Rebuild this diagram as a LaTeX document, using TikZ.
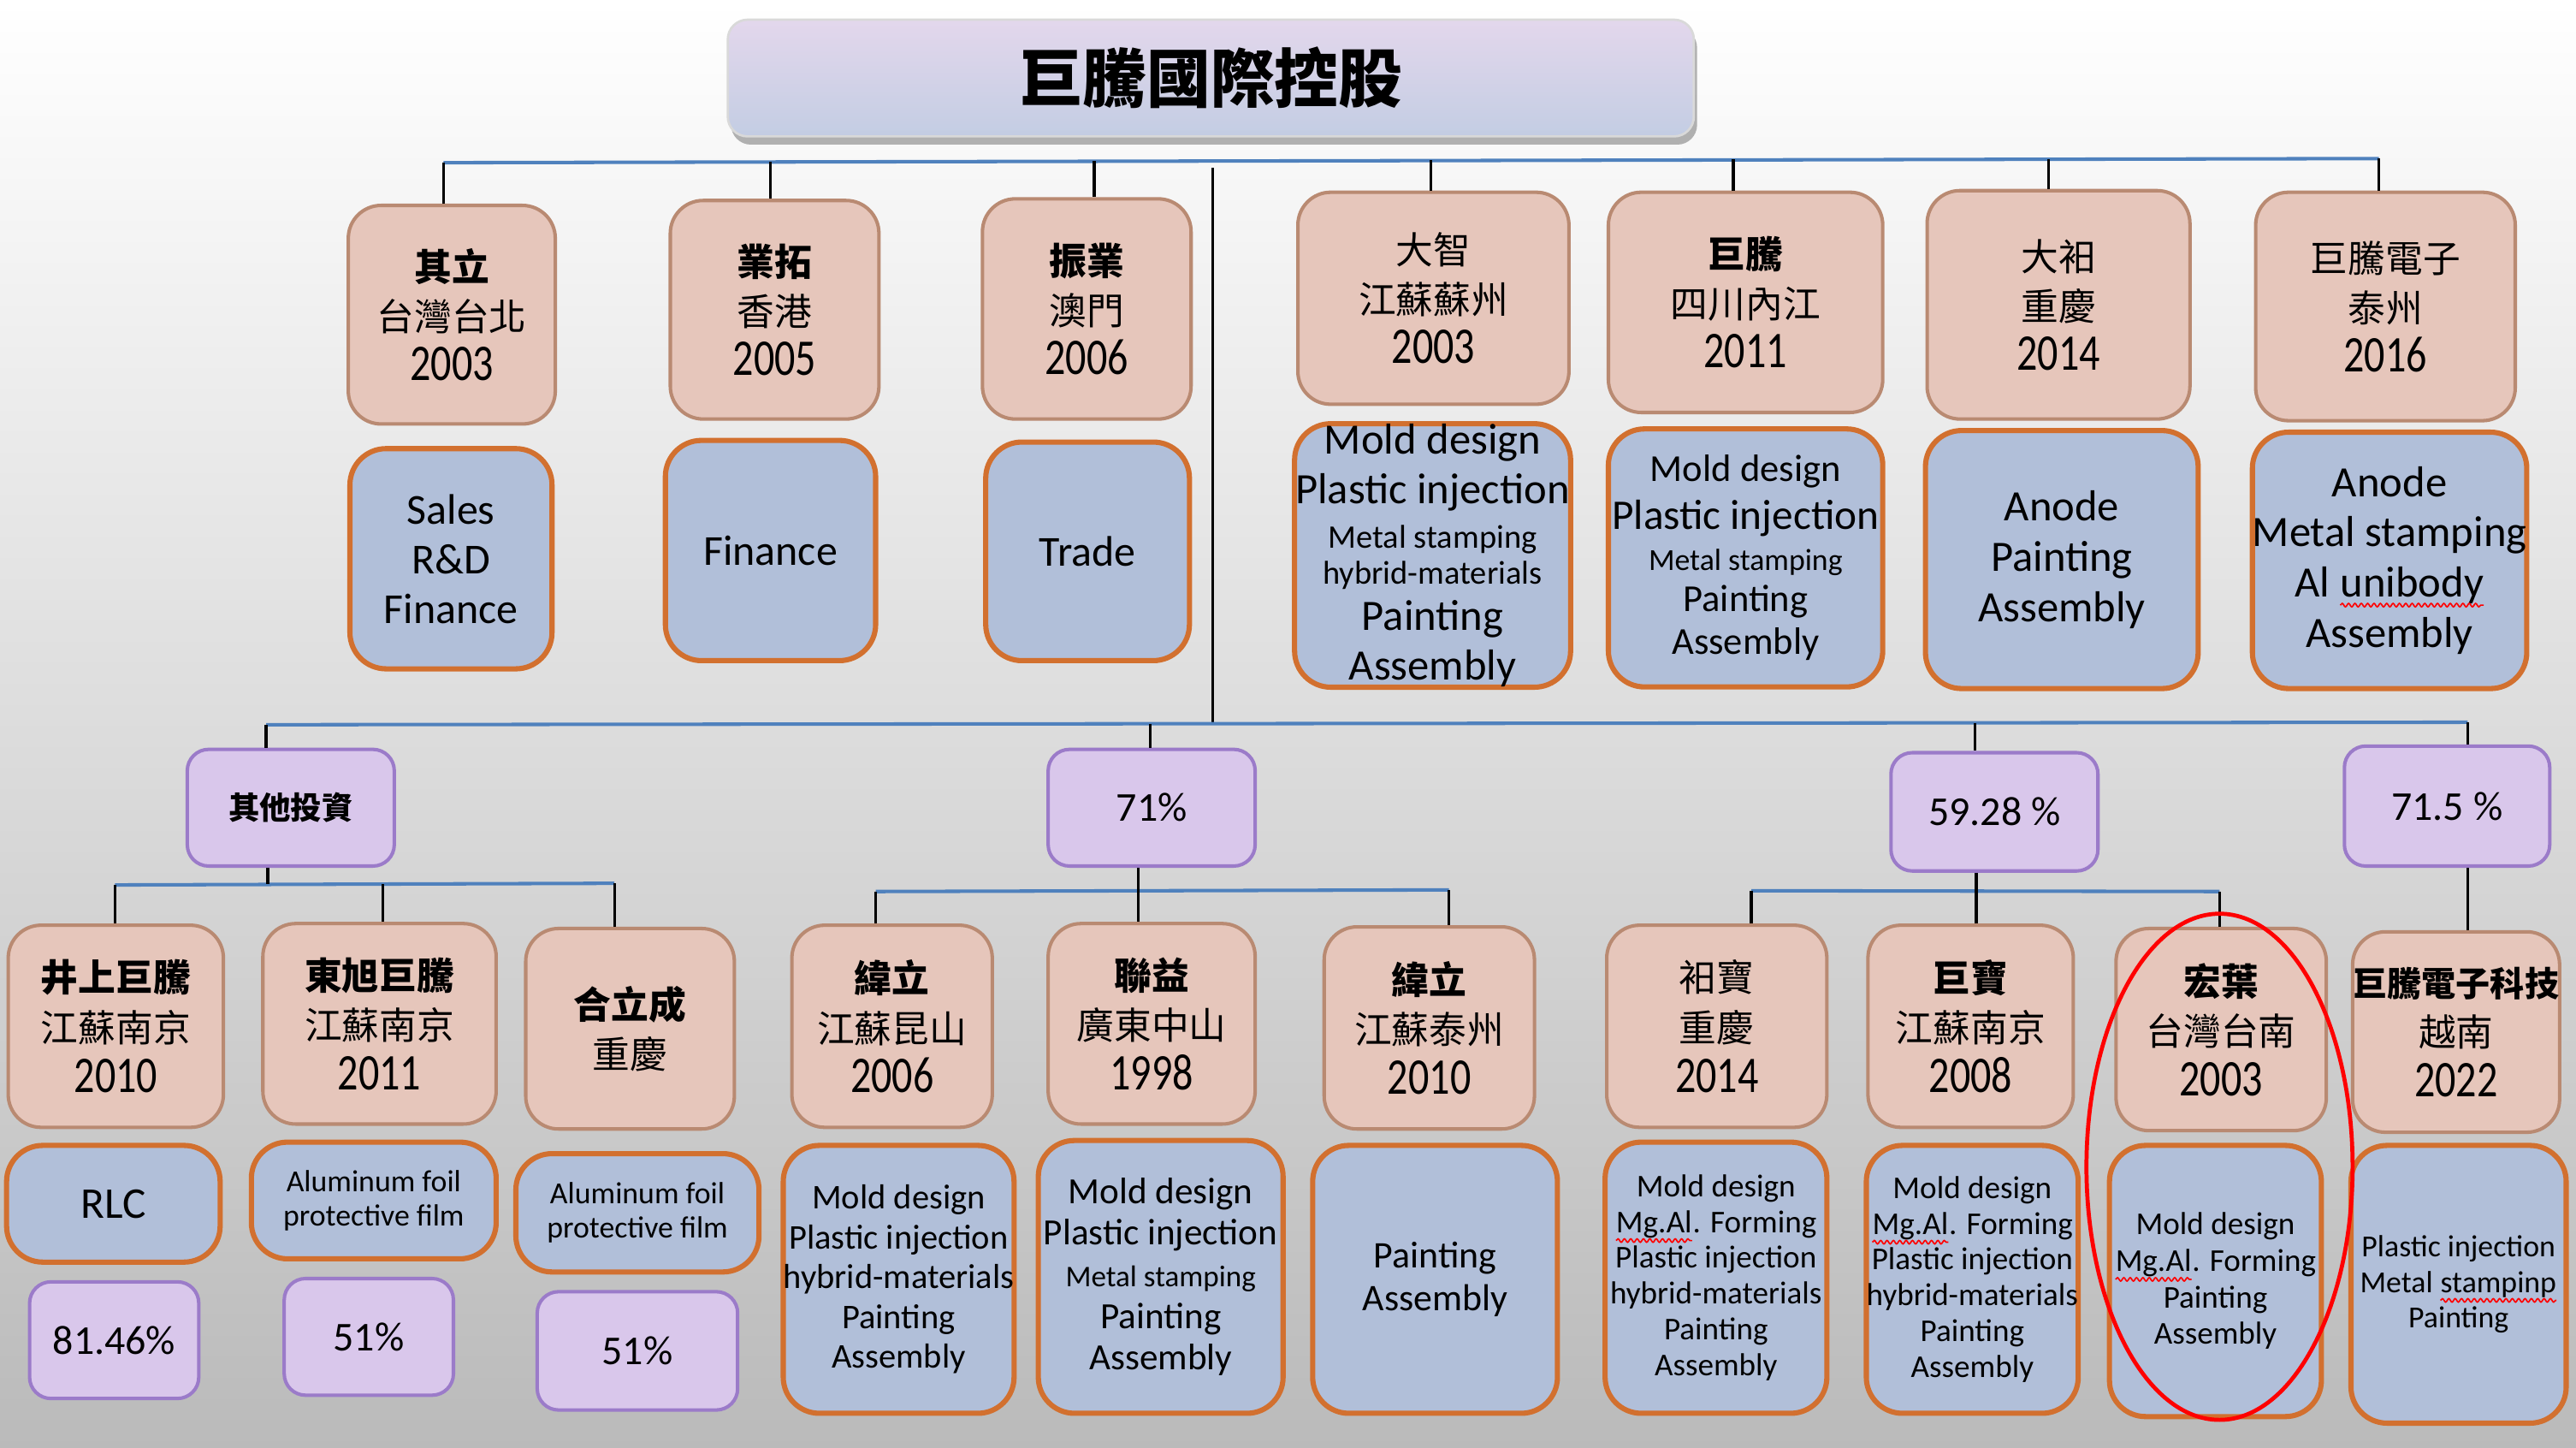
\documentclass[tikz,border=0pt]{standalone}
\usepackage{fontspec}
\setmainfont{Carlito}
\newfontfamily\cjk[Scale=0.9]{Noto Sans CJK TC}
\usepackage{xcolor}
\usepackage{tikz}
\usetikzlibrary{positioning, shadows, decorations.pathmorphing}

\definecolor{firmfill}{HTML}{E6C6BB}
\definecolor{firmline}{HTML}{B98A72}
\definecolor{workfill}{HTML}{B1BFD9}
\definecolor{workline}{HTML}{D2702F}
\definecolor{sharefill}{HTML}{D9C7EB}
\definecolor{shareline}{HTML}{9B7BC9}
\definecolor{busline}{HTML}{4F81BD}
\definecolor{headtop}{HTML}{E3D7EC}
\definecolor{headbot}{HTML}{C3CDE3}

\newcommand{\redwave}[1]{\tikz[baseline=(wv.base)]{\node[inner sep=0pt,outer sep=0pt,draw=none,fill=none,minimum width=0pt,minimum height=0pt,rounded corners=0pt](wv){#1};
	\draw[red,line width=0.25pt,rounded corners=0pt,decorate,decoration={snake,amplitude=0.3pt,segment length=1.1pt}] ([yshift=-1.4pt]wv.base west) -- ([yshift=-1.4pt]wv.base east);}}
\newcommand{\yr}[1]{{\addfontfeature{FakeStretch=0.8}\fontsize{8.9}{8.6}\selectfont #1}}
\newcommand{\firmlines}[3]{{\cjk\bfseries #1}\\{\cjk #2}\\\yr{#3}}
\newcommand{\firmlinesr}[3]{{\cjk #1}\\{\cjk #2}\\\yr{#3}}

\begin{document}
\begin{tikzpicture}
	\tikzstyle{firm}=[rectangle,rounded corners=0.2cm,draw=firmline,fill=firmfill,line width=0.6pt,align=center,inner sep=0pt,font=\fontsize{7.2}{8.6}\selectfont]
	\tikzstyle{work}=[rectangle,rounded corners=0.22cm,draw=workline,fill=workfill,line width=0.9pt,align=center,inner sep=0pt]
	\tikzstyle{share}=[rectangle,rounded corners=0.13cm,draw=shareline,fill=sharefill,line width=0.6pt,align=center,inner sep=0pt,font=\fontsize{7.1}{8}\selectfont]
	\tikzstyle{bus}=[draw=busline,line width=0.6pt]
	\tikzstyle{drop}=[draw=black,line width=0.5pt]
	\tikzset{wh/.style 2 args={minimum width=#1cm,minimum height=#2cm}}

	\shade[top color=white,middle color=black!9,bottom color=black!27] (0,0) rectangle (15.68,-8.81);
	\useasboundingbox (0,0) rectangle (15.68,-8.81);

	% holding
	\node[rectangle,rounded corners=0.12cm,top color=headtop,bottom color=headbot,draw=black!15,
		drop shadow={shadow xshift=0.02cm,shadow yshift=-0.05cm,opacity=0.6},wh={5.88}{0.71},
		font=\cjk\bfseries\fontsize{12.3}{14}\selectfont](head) at (7.37,-0.475){巨騰國際控股};

	% first level
	\node[firm,wh={1.26}{1.33}](qili) at (2.75,-1.915){\firmlines{其立}{台灣台北}{2003}};
	\node[firm,wh={1.27}{1.33}](yetuo) at (4.715,-1.885){\firmlines{業拓}{香港}{2005}};
	\node[firm,wh={1.27}{1.34}](zhenye) at (6.615,-1.88){\firmlines{振業}{澳門}{2006}};
	\node[firm,wh={1.65}{1.29}](dazhi) at (8.725,-1.815){\firmlinesr{大智}{江蘇蘇州}{2003}};
	\node[firm,wh={1.67}{1.34}](juteng) at (10.625,-1.84){\firmlines{巨騰}{四川內江}{2011}};
	\node[firm,wh={1.60}{1.39}](dazu) at (12.53,-1.855){\firmlinesr{大衵}{重慶}{2014}};
	\node[firm,wh={1.58}{1.39}](jutengdz) at (14.52,-1.865){\firmlinesr{巨騰電子}{泰州}{2016}};

	\node[work,wh={1.23}{1.34},font=\fontsize{7.4}{8.6}\selectfont](qiliw) at (2.745,-3.40){Sales\\R\&D\\Finance};
	\node[work,wh={1.28}{1.34},font=\fontsize{7.4}{8.6}\selectfont](yetuow) at (4.69,-3.35){Finance};
	\node[work,wh={1.24}{1.33},font=\fontsize{7.4}{8.6}\selectfont](zhenyew) at (6.62,-3.355){Trade};
	\node[work,wh={1.68}{1.60},font=\fontsize{7.5}{8.6}\selectfont](dazhiw) at (8.72,-3.38){Mold design\\Plastic injection\\[-0.9pt]{\fontsize{5.7}{6}\selectfont Metal stamping}\\[-2.3pt]{\fontsize{5.7}{6}\selectfont hybrid-materials}\\[-0.6pt]Painting\\Assembly};
	\node[work,wh={1.67}{1.57},font=\fontsize{6.6}{7.4}\selectfont](jutengw) at (10.625,-3.395){Mold design\\[0.9pt]{\fontsize{7.3}{7.4}\selectfont Plastic injection}\\[-0.3pt]{\fontsize{5.3}{6}\selectfont Metal stamping}\\[-0.3pt]Painting\\Assembly};
	\node[work,wh={1.66}{1.57},font=\fontsize{7.5}{8.7}\selectfont](dazuw) at (12.55,-3.405){Anode\\Painting\\Assembly};
	\node[work,wh={1.67}{1.56},font=\fontsize{7.5}{8.7}\selectfont](jutengdzw) at (14.545,-3.41){Anode\\Metal stamping\\Al \redwave{unibody}\\Assembly};

	% shares
	\node[share,wh={1.26}{0.71},font=\cjk\bfseries\fontsize{6}{7}\selectfont](other) at (1.77,-4.915){其他投資};
	\node[share,wh={1.26}{0.71}](p71) at (7.01,-4.915){71\%};
	\node[share,wh={1.26}{0.72}](p5928) at (12.14,-4.94){59.28 \%};
	\node[share,wh={1.25}{0.73}](p715) at (14.895,-4.905){71.5 \%};

	% second level
	\node[firm,wh={1.31}{1.23},font=\fontsize{7.2}{8.7}\selectfont](jingshang) at (0.705,-6.245){\firmlines{井上巨騰}{江蘇南京}{2010}};
	\node[firm,wh={1.42}{1.22},font=\fontsize{7.2}{8.7}\selectfont](dongxu) at (2.31,-6.23){\firmlines{東旭巨騰}{江蘇南京}{2011}};
	\node[firm,wh={1.27}{1.22},font=\fontsize{7.2}{8.7}\selectfont](helicheng) at (3.835,-6.26){{\cjk\bfseries 合立成}\\{\cjk 重慶}};
	\node[firm,wh={1.22}{1.23},font=\fontsize{7.2}{8.7}\selectfont](weilik) at (5.43,-6.245){\firmlines{緯立}{江蘇昆山}{2006}};
	\node[firm,wh={1.26}{1.22},font=\fontsize{7.2}{8.7}\selectfont](lianyi) at (7.01,-6.23){\firmlines{聯益}{廣東中山}{1998}};
	\node[firm,wh={1.28}{1.23},font=\fontsize{7.2}{8.7}\selectfont](weilit) at (8.70,-6.255){\firmlines{緯立}{江蘇泰州}{2010}};
	\node[firm,wh={1.34}{1.23},font=\fontsize{7.2}{8.7}\selectfont](zubao) at (10.45,-6.245){\firmlinesr{衵寶}{重慶}{2014}};
	\node[firm,wh={1.25}{1.23},font=\fontsize{7.2}{8.7}\selectfont](jubao) at (11.995,-6.245){\firmlines{巨寶}{江蘇南京}{2008}};
	\node[firm,wh={1.28}{1.23},font=\fontsize{7.2}{8.7}\selectfont](hongye) at (13.52,-6.265){\firmlines{宏葉}{台灣台南}{2003}};
	\node[firm,wh={1.26}{1.22},font=\fontsize{7.2}{8.7}\selectfont](jutengvn) at (14.95,-6.28){{\cjk\bfseries\fontsize{6.6}{8.7}\selectfont 巨騰電子科技}\\{\cjk 越南}\\\yr{2022}};

	\node[work,wh={1.30}{0.71},font=\fontsize{7.6}{8}\selectfont](jingshangw) at (0.69,-7.325){RLC};
	\node[work,wh={1.49}{0.71},font=\fontsize{5.3}{6}\selectfont](dongxuw) at (2.275,-7.305){Aluminum foil\\protective film};
	\node[work,wh={1.48}{0.72},font=\fontsize{5.3}{6}\selectfont](helichengw) at (3.88,-7.38){Aluminum foil\\protective film};
	\node[work,wh={1.40}{1.63},font=\fontsize{6}{6.9}\selectfont](weilikw) at (5.47,-7.785){Mold design\\Plastic injection\\hybrid-materials\\Painting\\Assembly};
	\node[work,wh={1.49}{1.66},font=\fontsize{6.4}{7.2}\selectfont](lianyiw) at (7.065,-7.77){Mold design\\Plastic injection\\{\fontsize{5.2}{6}\selectfont Metal stamping}\\Painting\\Assembly};
	\node[work,wh={1.49}{1.63},font=\fontsize{6.5}{7.4}\selectfont](weilitw) at (8.735,-7.785){Painting\\Assembly};
	\node[work,wh={1.35}{1.65},font=\fontsize{5.5}{6.2}\selectfont](zubaow) at (10.445,-7.775){Mold design\\\redwave{Mg.Al}. Forming\\Plastic injection\\hybrid-materials\\Painting\\Assembly};
	\node[work,wh={1.29}{1.63},font=\fontsize{5.5}{6.2}\selectfont](jubaow) at (12.005,-7.785){Mold design\\\redwave{Mg.Al}. Forming\\Plastic injection\\hybrid-materials\\Painting\\Assembly};
	\node[work,wh={1.29}{1.65},font=\fontsize{5.5}{6.3}\selectfont](hongyew) at (13.485,-7.795){Mold design\\\redwave{Mg.Al}. Forming\\Painting\\Assembly};
	\node[work,wh={1.31}{1.69},font=\fontsize{5.3}{6.1}\selectfont](jutengvnw) at (14.965,-7.815){Plastic injection\\Metal \redwave{stampinp}\\Painting};

	\node[share,wh={1.03}{0.71}](jingshangp) at (0.695,-8.155){81.46\%};
	\node[share,wh={1.03}{0.71}](dongxup) at (2.245,-8.135){51\%};
	\node[share,wh={1.22}{0.72}](helichengp) at (3.88,-8.22){51\%};

	% top bus
	\coordinate (t1) at (2.70,-0.99);
	\coordinate (t2) at (4.69,-0.985);
	\coordinate (t3) at (6.66,-0.98);
	\coordinate (t4) at (8.71,-0.975);
	\coordinate (t5) at (10.55,-0.97);
	\coordinate (t6) at (12.47,-0.97);
	\coordinate (t7) at (14.48,-0.965);
	\coordinate (trunk) at (7.38,-1.02);
	\coordinate (low) at (7.38,-4.40);
	\draw[bus] (t1) -- (t7);
	\draw[drop] (trunk) -- (low);
	\draw[drop] (t1) -- (t1 |- qili.north);
	\draw[drop] (t2) -- (t2 |- yetuo.north);
	\draw[drop] (t3) -- (t3 |- zhenye.north);
	\draw[drop] (t4) -- (t4 |- dazhi.north);
	\draw[drop] (t5) -- (t5 |- juteng.north);
	\draw[drop] (t6) -- (t6 |- dazu.north);
	\draw[drop] (t7) -- (t7 |- jutengdz.north);

	% lower bus
	\coordinate (l1) at (1.62,-4.41);
	\coordinate (l2) at (7.00,-4.405);
	\coordinate (l3) at (12.02,-4.40);
	\coordinate (l4) at (15.02,-4.395);
	\draw[bus] (l1) -- (l4);
	\draw[drop] (l1) -- (l1 |- other.north);
	\draw[drop] (l2) -- (l2 |- p71.north);
	\draw[drop] (l3) -- (l3 |- p5928.north);
	\draw[drop] (l4) -- (l4 |- p715.north);

	% other investments
	\coordinate (o0) at (1.63,-5.38);
	\coordinate (o1) at (0.70,-5.385);
	\coordinate (o2) at (2.33,-5.38);
	\coordinate (o3) at (3.74,-5.375);
	\draw[bus] (o1) -- (o3);
	\draw[drop] (o0 |- other.south) -- (o0);
	\draw[drop] (o1) -- (o1 |- jingshang.north);
	\draw[drop] (o2) -- (o2 |- dongxu.north);
	\draw[drop] (o3) -- (o3 |- helicheng.north);

	% 71%
	\coordinate (s0) at (6.93,-5.42);
	\coordinate (s1) at (5.33,-5.425);
	\coordinate (s3) at (8.82,-5.415);
	\draw[bus] (s1) -- (s3);
	\draw[drop] (s0 |- p71.south) -- (s0 |- lianyi.north);
	\draw[drop] (s1) -- (s1 |- weilik.north);
	\draw[drop] (s3) -- (s3 |- weilit.north);

	% 59.28%
	\coordinate (u0) at (12.03,-5.42);
	\coordinate (u1) at (10.66,-5.42);
	\coordinate (u3) at (13.51,-5.425);
	\draw[bus] (u1) -- (u3);
	\draw[drop] (u0 |- p5928.south) -- (u0 |- jubao.north);
	\draw[drop] (u1) -- (u1 |- zubao.north);
	\draw[drop] (u3) -- (u3 |- hongye.north);

	% 71.5%
	\coordinate (v0) at (15.02,-5.30);
	\draw[drop] (v0 |- p715.south) -- (v0 |- jutengvn.north);

	\draw[red,line width=0.7pt] (13.51,-7.10) ellipse [x radius=0.81,y radius=1.54];
\end{tikzpicture}
\end{document}
